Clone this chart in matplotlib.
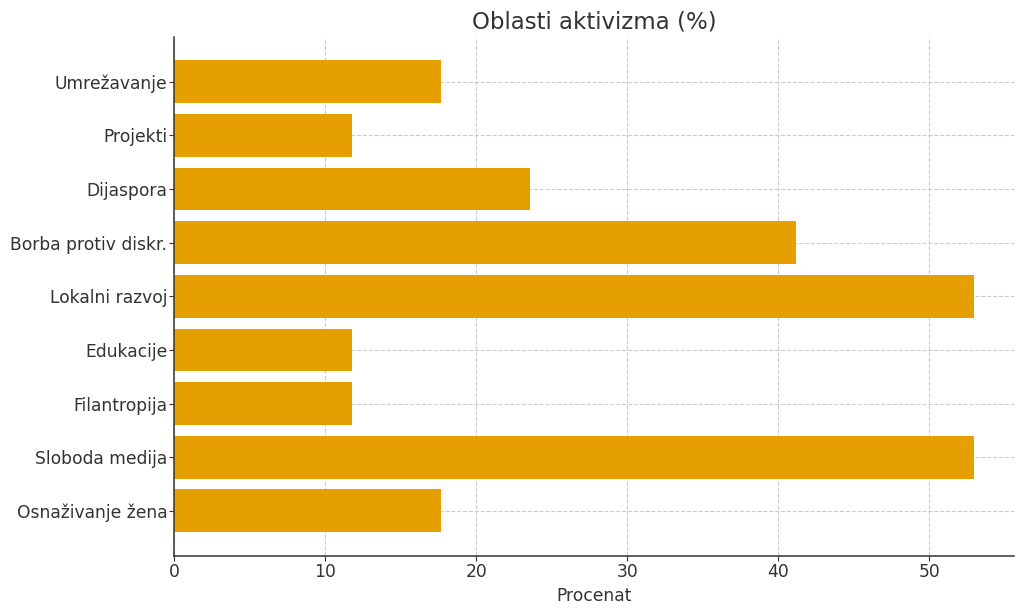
import matplotlib.pyplot as plt

# oblasti (odozdo prema gore)
categories = ["Osnaživanje žena", "Sloboda medija", "Filantropija", "Edukacije",
              "Lokalni razvoj", "Borba protiv diskr.", "Dijaspora", "Projekti",
              "Umrežavanje"]
percent = [17.65, 52.94, 11.76, 11.76, 52.94, 41.18, 23.53, 11.76, 17.65]

plt.rcParams['font.family'] = ['DejaVu Sans']
plt.rcParams['text.color'] = '#333333'
plt.rcParams['axes.labelcolor'] = '#333333'
plt.rcParams['xtick.color'] = '#333333'
plt.rcParams['ytick.color'] = '#333333'

fig, ax = plt.subplots(figsize=(10.24, 6.11), dpi=100)
ax.barh(categories, percent, color='#E69F00', height=0.8)

ax.set_title("Oblasti aktivizma (%)", fontsize=16.5)
ax.set_xlabel("Procenat", fontsize=12.3)
ax.tick_params(labelsize=12.3, pad=1.5)
ax.grid(True, linestyle='--', color='#cccccc', linewidth=0.8)
ax.set_axisbelow(True)
for s in ['top', 'right']:
    ax.spines[s].set_visible(False)
for s in ['left', 'bottom']:
    ax.spines[s].set_color('#333333')
    ax.spines[s].set_linewidth(1.1)

plt.subplots_adjust(left=0.17, right=0.99, top=0.94, bottom=0.09)
plt.savefig("out.png", dpi=100)
